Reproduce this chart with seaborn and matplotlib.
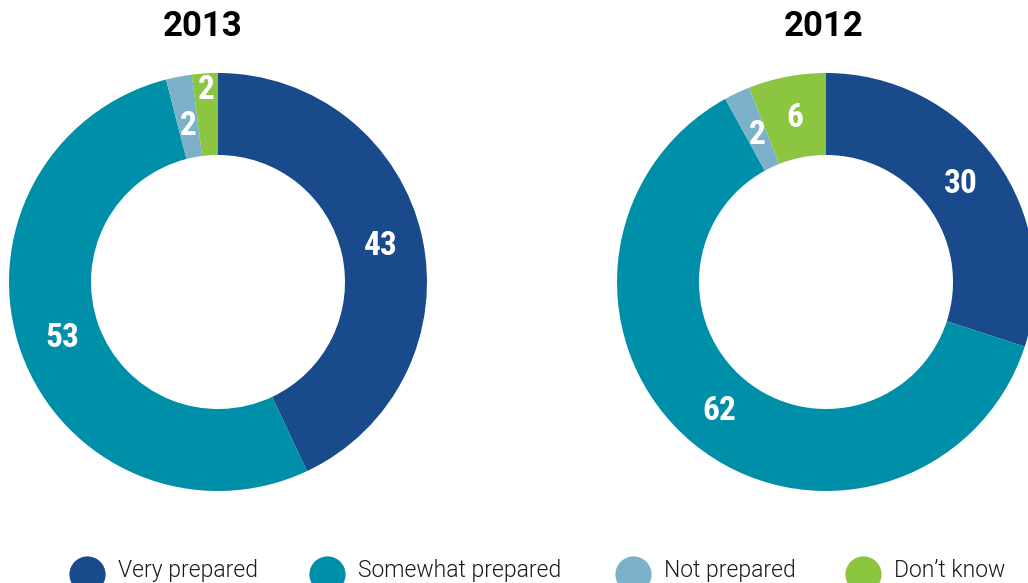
import matplotlib
matplotlib.use("Agg")
import numpy as np
import matplotlib.pyplot as plt
import seaborn as sns

# Survey responses (percent) by year
categories = ["Very prepared", "Somewhat prepared", "Not prepared", "Don\u2019t know"]
values_2013 = [43, 53, 2, 2]
values_2012 = [30, 62, 2, 6]
years = ["2013", "2012"]

palette = sns.color_palette(["#184A8C", "#008FA9", "#7BB2C9", "#8CC540"])

sns.set_theme(style="white")
plt.rcParams["font.family"] = ["Roboto Condensed", "DejaVu Sans"]

W, H = 1028, 583
fig = plt.figure(figsize=(W / 100, H / 100), dpi=100)
fig.patch.set_facecolor("white")

R_OUT = 209
RING = 1 - 127 / 209


def donut(cx, cy, values, label_r):
    ax = fig.add_axes([(cx - R_OUT) / W, (H - cy - R_OUT) / H, 2 * R_OUT / W, 2 * R_OUT / H])
    ax.pie(values, colors=palette, startangle=90, counterclock=False, radius=1,
           wedgeprops=dict(width=RING, linewidth=0))
    ax.set_xlim(-1, 1)
    ax.set_ylim(-1, 1)
    ax.set_aspect("equal")
    ax.axis("off")
    # value labels inside the ring
    total = sum(values)
    start = 90.0
    for v, r in zip(values, label_r):
        ang = np.deg2rad(start - 360 * v / total / 2)
        start -= 360 * v / total
        ax.text(r * np.cos(ang), r * np.sin(ang), f"{v}", color="white",
                fontsize=24, fontweight="bold", ha="center", va="center",
                family=["Roboto Condensed", "DejaVu Sans"])
    return ax


donut(218, 282, values_2013, [0.80, 0.79, 0.76, 0.92])
donut(826, 282, values_2012, [0.80, 0.80, 0.775, 0.80])

for x, label in zip([202.5, 823.5], years):
    fig.text(x / W, 1 - 26 / H, label, ha="center", va="center",
             fontsize=25, fontweight="bold", color="black",
             family=["Roboto", "DejaVu Sans"])

# Legend row along the bottom edge
lg = fig.add_axes([0, 0, 1, 1], zorder=5)
lg.set_xlim(0, W)
lg.set_ylim(H, 0)
lg.axis("off")
lg.patch.set_alpha(0)
marker_x = [87, 327, 633, 863]
for x, c, name in zip(marker_x, palette, categories):
    lg.scatter([x], [574], s=680, color=c, marker="o", linewidths=0, clip_on=False)
    lg.text(x + 31, 577, name, ha="left", va="baseline", fontsize=16.5,
            fontweight=300, color="#1a1a1a", family=["Roboto", "DejaVu Sans"])

fig.savefig("out.png", dpi=100, facecolor="white")
